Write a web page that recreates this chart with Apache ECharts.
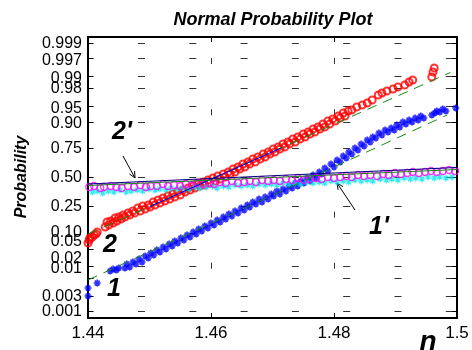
<!DOCTYPE html>
<html><head><meta charset="utf-8">
<script src="https://cdn.jsdelivr.net/npm/echarts@6/dist/echarts.min.js"></script>
<style>html,body{margin:0;padding:0;background:#fff}#c{width:472px;height:350px}</style>
</head><body><div id="c"></div>
<script>
// ---- data (x = refractive index n, y = normal quantile of the plotting probability) ----
const probTickLabels = ['0.001','0.003','0.01','0.02','0.05','0.10','0.25','0.50','0.75','0.90','0.95','0.98','0.99','0.997','0.999'];
const xTickLabels = ['1.44','1.46','1.48','1.5'];

const series2Points = [
[1.4400,-1.510],[1.4402,-1.441],[1.4403,-1.395],[1.4407,-1.372],[1.4410,-1.326],[1.4413,-1.303],[1.4415,-1.257],
[1.4428,-1.142],[1.4431,-1.026],[1.4434,-1.095],[1.4437,-1.003],[1.4441,-1.049],[1.4444,-0.934],[1.4447,-1.003],[1.4450,-0.911],[1.4454,-0.957],[1.4457,-0.865],[1.4460,-0.911],[1.4465,-0.819],[1.4468,-0.865],[1.4473,-0.773],[1.4476,-0.819],[1.4481,-0.703],[1.4485,-0.773],[1.4489,-0.657],[1.4493,-0.726],[1.4498,-0.634],[1.4501,-0.680],[1.4506,-0.565],[1.4509,-0.634],[1.4514,-0.519],[1.4517,-0.588],[1.4522,-0.473],[1.4525,-0.542],[1.4530,-0.427],[1.4533,-0.496],[1.4538,-0.381],[1.4541,-0.450],[1.4546,-0.334],[1.4550,-0.404],[1.4554,-0.288],[1.4558,-0.334],[1.4563,-0.242],[1.4566,-0.288],[1.4571,-0.196],[1.4574,-0.242],[1.4579,-0.150],[1.4582,-0.196],[1.4587,-0.104],[1.4590,-0.173],[1.4595,-0.058],[1.4598,-0.127],[1.4603,-0.012],[1.4607,-0.081],[1.4611,0.035],[1.4615,-0.035],[1.4620,0.081],[1.4623,0.012],[1.4628,0.127],[1.4631,0.081],[1.4636,0.196],[1.4639,0.127],[1.4644,0.242],[1.4647,0.196],[1.4652,0.311],[1.4655,0.242],[1.4660,0.357],[1.4663,0.311],[1.4668,0.427],[1.4672,0.357],[1.4676,0.473],[1.4680,0.427],[1.4685,0.542],[1.4688,0.473],[1.4693,0.588],[1.4696,0.542],[1.4701,0.657],[1.4704,0.588],[1.4709,0.703],[1.4712,0.657],[1.4717,0.773],[1.4720,0.703],[1.4725,0.819],[1.4728,0.773],[1.4733,0.888],[1.4737,0.819],[1.4741,0.934],[1.4745,0.888],[1.4750,1.003],[1.4753,0.934],[1.4758,1.049],[1.4761,1.003],[1.4766,1.118],[1.4769,1.049],[1.4774,1.165],[1.4777,1.118],[1.4782,1.234],[1.4785,1.165],[1.4790,1.303],[1.4793,1.234],[1.4798,1.349],[1.4802,1.303],[1.4807,1.418],[1.4810,1.372],[1.4815,1.487],[1.4818,1.418],[1.4823,1.534],[1.4829,1.557],[1.4837,1.626],[1.4846,1.672],[1.4854,1.718],[1.4862,1.787],[1.4872,1.903],[1.4878,1.949],[1.4886,1.995],[1.4896,2.041],[1.4904,2.087],[1.4915,2.133],[1.4922,2.202],[1.4928,2.248],[1.4959,2.318],[1.4961,2.433],[1.4963,2.525]
];

const series1Points = [
[1.4400,-2.733],[1.4400,-2.548],[1.4415,-2.433],
[1.4436,-2.156],[1.4441,-2.110],[1.4446,-2.133],[1.4450,-2.087],
[1.4460,-2.087],[1.4463,-1.995],[1.4468,-2.064],[1.4473,-1.949],[1.4478,-1.995],[1.4483,-1.880],[1.4488,-1.949],[1.4493,-1.810],[1.4498,-1.856],[1.4502,-1.741],[1.4507,-1.787],[1.4512,-1.672],[1.4517,-1.718],[1.4522,-1.603],[1.4527,-1.649],[1.4532,-1.534],[1.4537,-1.580],[1.4541,-1.464],[1.4546,-1.510],[1.4551,-1.395],[1.4556,-1.441],[1.4561,-1.326],[1.4566,-1.372],[1.4571,-1.257],[1.4576,-1.303],[1.4580,-1.188],[1.4585,-1.234],[1.4590,-1.119],[1.4595,-1.165],[1.4600,-1.049],[1.4605,-1.095],[1.4610,-0.980],[1.4615,-1.026],[1.4620,-0.911],[1.4624,-0.957],[1.4629,-0.842],[1.4634,-0.888],[1.4639,-0.773],[1.4644,-0.819],[1.4649,-0.703],[1.4654,-0.749],[1.4659,-0.634],[1.4663,-0.680],[1.4668,-0.565],[1.4673,-0.611],[1.4678,-0.496],[1.4683,-0.565],[1.4688,-0.450],[1.4693,-0.496],[1.4698,-0.381],[1.4702,-0.427],[1.4707,-0.311],[1.4712,-0.381],[1.4717,-0.265],[1.4722,-0.311],[1.4727,-0.196],[1.4732,-0.242],[1.4737,-0.127],[1.4741,-0.196],[1.4746,-0.081],[1.4751,-0.127],[1.4756,-0.012],[1.4761,-0.081],[1.4766,0.058],[1.4771,-0.012],[1.4776,0.127],[1.4780,0.081],[1.4785,0.219],[1.4790,0.150],[1.4795,0.311],[1.4800,0.242],[1.4805,0.404],[1.4810,0.357],[1.4815,0.496],[1.4820,0.450],[1.4824,0.588],[1.4829,0.542],[1.4834,0.680],[1.4839,0.634],[1.4844,0.773],[1.4849,0.726],[1.4854,0.865],[1.4859,0.819],[1.4863,0.934],[1.4868,0.911],[1.4873,1.026],[1.4878,0.980],[1.4883,1.095],[1.4888,1.049],[1.4893,1.142],[1.4898,1.095],[1.4902,1.211],[1.4907,1.165],[1.4912,1.280],[1.4917,1.234],[1.4922,1.326],[1.4927,1.280],[1.4932,1.372],[1.4937,1.326],[1.4941,1.418],[1.4946,1.372],
[1.4959,1.441],[1.4964,1.487],[1.4967,1.534],[1.4972,1.510],[1.4977,1.580],[1.4982,1.534],[1.4998,1.603]
];

const series2pPoints = [
[1.4402,-0.219],[1.4410,-0.196],[1.4420,-0.242],[1.4426,-0.219],[1.4437,-0.196],[1.4446,-0.219],[1.4455,-0.242],[1.4465,-0.196],[1.4475,-0.219],[1.4485,-0.173],[1.4494,-0.219],[1.4502,-0.196],[1.4512,-0.196],[1.4522,-0.150],[1.4530,-0.196],[1.4540,-0.173],[1.4550,-0.196],[1.4559,-0.150],[1.4569,-0.173],[1.4577,-0.127],[1.4587,-0.150],[1.4597,-0.127],[1.4605,-0.150],[1.4615,-0.104],[1.4624,-0.127],[1.4634,-0.081],[1.4644,-0.127],[1.4654,-0.104],[1.4663,-0.081],[1.4673,-0.104],[1.4683,-0.058],[1.4693,-0.081],[1.4702,-0.058],[1.4712,-0.081],[1.4722,-0.035],[1.4732,-0.058],[1.4741,-0.012],[1.4751,-0.058],[1.4761,-0.035],[1.4771,-0.012],[1.4780,-0.035],[1.4790,0.012],[1.4800,-0.012],[1.4810,0.012],[1.4820,0.035],[1.4829,0.012],[1.4839,0.058],[1.4849,0.035],[1.4859,0.058],[1.4870,0.035],[1.4880,0.081],[1.4889,0.058],[1.4899,0.104],[1.4909,0.081],[1.4919,0.104],[1.4928,0.127],[1.4938,0.104],[1.4948,0.127],[1.4958,0.150],[1.4967,0.127],[1.4977,0.150],[1.4987,0.173],[1.4997,0.150]
];

const series1pPoints = [
[1.4407,-0.334],[1.4415,-0.311],[1.4424,-0.357],[1.4433,-0.311],[1.4442,-0.334],[1.4452,-0.288],[1.4462,-0.334],[1.4470,-0.311],[1.4480,-0.288],[1.4489,-0.311],[1.4499,-0.265],[1.4509,-0.288],[1.4517,-0.265],[1.4527,-0.288],[1.4535,-0.242],[1.4545,-0.265],[1.4554,-0.242],[1.4564,-0.265],[1.4574,-0.219],[1.4582,-0.242],[1.4592,-0.219],[1.4602,-0.196],[1.4610,-0.242],[1.4620,-0.196],[1.4629,-0.219],[1.4639,-0.173],[1.4649,-0.196],[1.4659,-0.173],[1.4668,-0.196],[1.4678,-0.150],[1.4688,-0.173],[1.4698,-0.150],[1.4707,-0.173],[1.4717,-0.127],[1.4727,-0.150],[1.4737,-0.127],[1.4746,-0.150],[1.4756,-0.104],[1.4766,-0.127],[1.4776,-0.104],[1.4785,-0.127],[1.4795,-0.081],[1.4805,-0.104],[1.4815,-0.081],[1.4824,-0.104],[1.4834,-0.058],[1.4844,-0.081],[1.4854,-0.058],[1.4863,-0.081],[1.4875,-0.035],[1.4885,-0.058],[1.4894,-0.035],[1.4904,-0.058],[1.4914,-0.012],[1.4924,-0.035],[1.4933,-0.012],[1.4943,-0.035],[1.4953,0.012],[1.4963,-0.012],[1.4972,0.012],[1.4982,-0.012],[1.4992,0.012]
];

const fit2Line = [[1.4400,-1.303],[1.4989,2.421]];
const quart2Line = [[1.4500,-0.674],[1.4713,0.674]];
const fit1Line = [[1.4400,-2.364],[1.4984,1.441]];
const flatLineA = [[1.4400,-0.150],[1.5000,0.231]];
const flatLineB = [[1.4400,-0.184],[1.5000,0.184]];

// ---- helpers ----
function probit(p) {
  const a=[-3.969683028665376e+01,2.209460984245205e+02,-2.759285104469687e+02,1.383577518672690e+02,-3.066479806614716e+01,2.506628277459239e+00];
  const b=[-5.447609879822406e+01,1.615858368580409e+02,-1.556989798598866e+02,6.680131188771972e+01,-1.328068155288572e+01];
  const c=[-7.784894002430293e-03,-3.223964580411365e-01,-2.400758277161838e+00,-2.549732539343734e+00,4.374664141464968e+00,2.938163982698783e+00];
  const d=[7.784695709041462e-03,3.224671290700398e-01,2.445134137142996e+00,3.754408661907416e+00];
  const pl=0.02425, ph=1-pl; let q,r;
  if (p<pl){q=Math.sqrt(-2*Math.log(p));return (((((c[0]*q+c[1])*q+c[2])*q+c[3])*q+c[4])*q+c[5])/((((d[0]*q+d[1])*q+d[2])*q+d[3])*q+1);}
  if (p<=ph){q=p-0.5;r=q*q;return (((((a[0]*r+a[1])*r+a[2])*r+a[3])*r+a[4])*r+a[5])*q/(((((b[0]*r+b[1])*r+b[2])*r+b[3])*r+b[4])*r+1);}
  q=Math.sqrt(-2*Math.log(1-p));return -(((((c[0]*q+c[1])*q+c[2])*q+c[3])*q+c[4])*q+c[5])/((((d[0]*q+d[1])*q+d[2])*q+d[3])*q+1);
}
const probTickValues = probTickLabels.map(s => probit(parseFloat(s)));
const Y_MIN = -3.24, Y_MAX = 3.24;
// bracket the real ticks with invisible edge entries so no real label is treated as the first/last one
const yLabelValues = [Y_MIN].concat(probTickValues, [Y_MAX]);

const FONT = "'Liberation Sans', Arial, sans-serif";
const labelStyleKey = {'0.05':'u7','0.02':'u8','0.01':'u10','0.997':'d2','0.99':'d2','0.95':'d2','0.90':'d2'};
const STAR = 'path://M5,0L5,10M0,5L10,5M1.6,1.6L8.4,8.4M1.6,8.4L8.4,1.6';

function yLabel(v) {
  if (Math.abs(v - Y_MIN) < 1e-9 || Math.abs(v - Y_MAX) < 1e-9) return '';
  let i = 0, best = 1e9;
  probTickValues.forEach((q, k) => { const dd = Math.abs(q - v); if (dd < best) { best = dd; i = k; } });
  const s = probTickLabels[i];
  return '{' + (labelStyleKey[s] || 'n') + '|' + s + '}';
}
function xLabel(v) {
  let i = Math.round((v - 1.44) / 0.02);
  return xTickLabels[i] || '';
}

const chart = echarts.init(document.getElementById('c'), null, {renderer: 'canvas'});
const baseRich = {fontSize: 16, fontFamily: FONT, color: '#000'};
const option = {
  animation: false,
  backgroundColor: '#fff',
  grid: {left: 88, top: 37, width: 369, height: 281, containLabel: false},
  xAxis: [{
    type: 'value', min: 1.44, max: 1.5, interval: 0.02, position: 'bottom',
    axisLine: {show: true, onZero: false, lineStyle: {color: '#000', width: 2}},
    axisTick: {show: true, inside: true, length: 5, lineStyle: {color: '#000', width: 1}},
    axisLabel: {show: true, margin: 7, fontSize: 17, fontFamily: FONT, color: '#000', formatter: xLabel, showMinLabel: true, showMaxLabel: true},
    splitLine: {show: true, lineStyle: {color: '#333', width: 1, type: [6, 45.2], dashOffset: 30.2}}
  }, {
    type: 'value', min: 1.44, max: 1.5, interval: 0.02, position: 'top',
    axisLine: {show: true, onZero: false, lineStyle: {color: '#000', width: 2}},
    axisTick: {show: true, inside: true, length: 5, lineStyle: {color: '#000', width: 1}},
    axisLabel: {show: false}, splitLine: {show: false}
  }],
  yAxis: [{
    type: 'value', min: Y_MIN, max: Y_MAX, position: 'left',
    axisLine: {show: true, onZero: false, lineStyle: {color: '#000', width: 2}},
    axisTick: {show: true, inside: true, length: 5, customValues: yLabelValues, lineStyle: {color: '#000', width: 1}},
    axisLabel: {show: true, margin: 6, customValues: yLabelValues, formatter: yLabel, hideOverlap: false,
      showMinLabel: false, showMaxLabel: false,
      rich: {
        n: Object.assign({}, baseRich),
        u7: Object.assign({}, baseRich, {padding: [0, 0, 14, 0]}),
        u8: Object.assign({}, baseRich, {padding: [0, 0, 16, 0]}),
        u10: Object.assign({}, baseRich, {padding: [0, 0, 20, 0]}),
        d2: Object.assign({}, baseRich, {padding: [4, 0, 0, 0]})
      }},
    splitLine: {show: true, lineStyle: {color: '#333', width: 1, type: [7, 44.3], dashOffset: 1.3}}
  }, {
    type: 'value', min: Y_MIN, max: Y_MAX, position: 'right',
    axisLine: {show: true, onZero: false, lineStyle: {color: '#000', width: 2}},
    axisTick: {show: true, inside: true, length: 5, customValues: probTickValues, lineStyle: {color: '#000', width: 1}},
    axisLabel: {show: false}, splitLine: {show: false}
  }],
  series: [
    {type: 'scatter', name: '2', data: series2Points, symbol: 'circle', symbolSize: 7, silent: true,
      itemStyle: {color: 'transparent', borderColor: '#ff0000', borderWidth: 2}, emphasis: {disabled: true}},
    {type: 'scatter', name: '1', data: series1Points, symbol: STAR, symbolSize: 7, silent: true,
      itemStyle: {color: 'transparent', borderColor: '#0000ff', borderWidth: 1.7}, emphasis: {disabled: true}},
    {type: 'scatter', name: "1'", data: series1pPoints, symbol: STAR, symbolSize: 7, silent: true,
      itemStyle: {color: 'transparent', borderColor: '#00e5ee', borderWidth: 1.2}, emphasis: {disabled: true}},
    {type: 'scatter', name: "2'", data: series2pPoints, symbol: 'circle', symbolSize: 7, silent: true,
      itemStyle: {color: 'transparent', borderColor: '#ff00ff', borderWidth: 1.3}, emphasis: {disabled: true}},
    {type: 'line', data: fit2Line, showSymbol: false, silent: true, lineStyle: {color: '#168a16', width: 1, type: [10, 7]}},
    {type: 'line', data: quart2Line, showSymbol: false, silent: true, lineStyle: {color: '#0000ff', width: 1}},
    {type: 'line', data: fit1Line, showSymbol: false, silent: true, lineStyle: {color: '#168a16', width: 1, type: [10, 7]}},
    {type: 'line', data: flatLineB, showSymbol: false, silent: true, lineStyle: {color: '#168a16', width: 1}},
    {type: 'line', data: flatLineA, showSymbol: false, silent: true, lineStyle: {color: '#000080', width: 1}}
  ],
  graphic: [
    {type: 'text', x: 273, y: 20, silent: true, style: {text: 'Normal Probability Plot', font: "italic bold 18px " + FONT, fill: '#000', align: 'center', verticalAlign: 'middle'}},
    {type: 'text', x: 22, y: 177, rotation: Math.PI / 2, silent: true, style: {text: 'Probability', font: "italic bold 16px " + FONT, fill: '#000', align: 'center', verticalAlign: 'middle'}},
    {type: 'text', x: 428, y: 342, silent: true, style: {text: 'n', font: "italic bold 28px " + FONT, fill: '#000', align: 'center', verticalAlign: 'middle'}},
    {type: 'text', x: 122, y: 132, silent: true, style: {text: "2'", font: "italic bold 25px " + FONT, fill: '#000', align: 'center', verticalAlign: 'middle'}},
    {type: 'text', x: 110, y: 245, silent: true, style: {text: '2', font: "italic bold 25px " + FONT, fill: '#000', align: 'center', verticalAlign: 'middle'}},
    {type: 'text', x: 114, y: 289, silent: true, style: {text: '1', font: "italic bold 25px " + FONT, fill: '#000', align: 'center', verticalAlign: 'middle'}},
    {type: 'text', x: 379, y: 227, silent: true, style: {text: "1'", font: "italic bold 25px " + FONT, fill: '#000', align: 'center', verticalAlign: 'middle'}},
    {type: 'polyline', silent: true, shape: {points: [[123, 156], [135, 178]]}, style: {stroke: '#000', lineWidth: 1, fill: null}},
    {type: 'polyline', silent: true, shape: {points: [[134.6, 171], [135, 178], [129.4, 173.9]]}, style: {stroke: '#000', lineWidth: 1, fill: null}},
    {type: 'polyline', silent: true, shape: {points: [[355, 210], [337, 183]]}, style: {stroke: '#000', lineWidth: 1, fill: null}},
    {type: 'polyline', silent: true, shape: {points: [[338.1, 189.9], [337, 183], [343, 186.6]]}, style: {stroke: '#000', lineWidth: 1, fill: null}}
  ]
};
chart.setOption(option);
</script>
</body></html>
